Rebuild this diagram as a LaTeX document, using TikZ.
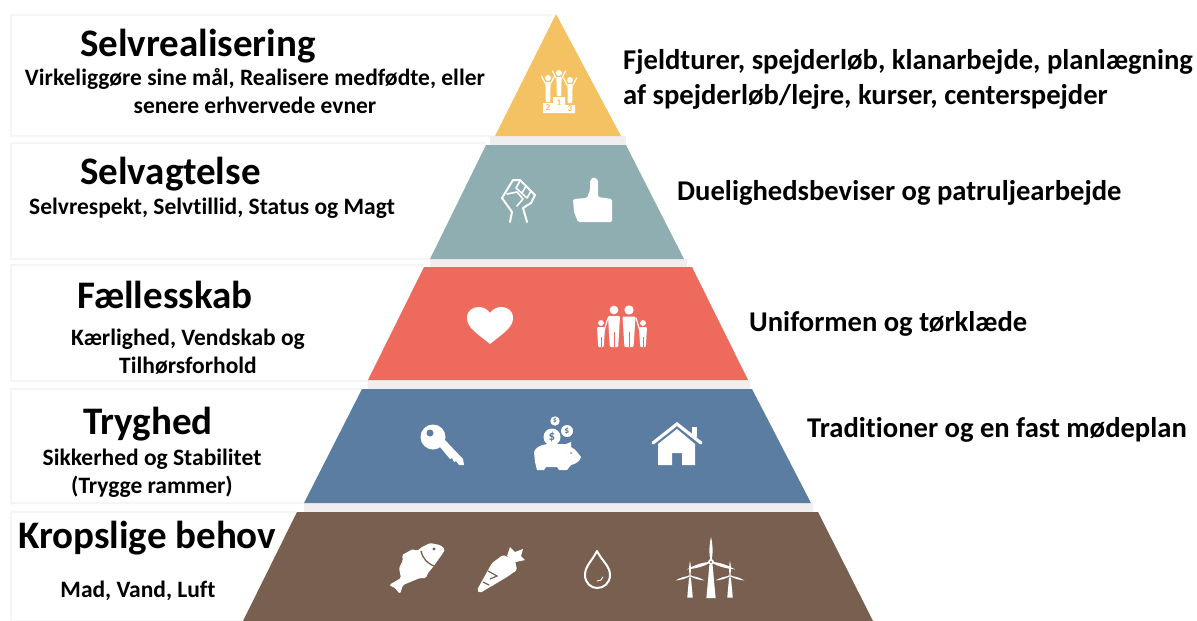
\documentclass[tikz,border=0pt]{standalone}
\usepackage{fontspec}
\setmainfont[Ligatures=NoCommon]{Carlito}
\usetikzlibrary{positioning}
\tikzset{
  heading/.style={anchor=base west,inner sep=0pt,text height=24pt,text depth=8pt,font=\fontsize{39}{41}\selectfont\bfseries},
  subtext/.style={inner sep=0pt,text height=14pt,text depth=5pt,font=\fontsize{23.5}{25}\selectfont\bfseries},
  activity/.style={anchor=base west,inner sep=0pt,text height=17pt,text depth=6pt,font=\fontsize{28.6}{30}\selectfont\bfseries},
  rowedge/.style={draw=rowline,line width=1.2pt},
  icon/.style={fill=white,draw=none},
  iconline/.style={draw=white,line width=2pt,line cap=round,line join=round},
  podiumnum/.style={inner sep=0pt,text=layerA,font=\fontsize{9}{9}\selectfont\bfseries},
  coinsign/.style={inner sep=0pt,text=layerD,font=\fontsize{#1}{#1}\selectfont\bfseries},
  turbine/.pic={
    \foreach \a in {0,107,-107}
      \fill[white,rotate=\a] (0,0) .. controls (-2.6,-8) and (-1.6,-18) .. (0,-25) .. controls (1.6,-18) and (2.6,-8) .. (0,0);
    \fill[white] (-1.6,3) -- (1.6,3) -- (4.6,36) -- (-4.6,36) -- cycle;
    \fill[white] (0,0) circle (3);
    \fill[layerE] (0,0) circle (1.2);
  }
}
\definecolor{layerA}{HTML}{F4C262}
\definecolor{layerB}{HTML}{8FAEB2}
\definecolor{layerC}{HTML}{EE6A5C}
\definecolor{layerD}{HTML}{5A7DA1}
\definecolor{layerE}{HTML}{785F50}
\definecolor{gapband}{HTML}{F0EEEE}
\definecolor{rowline}{HTML}{F5F5F5}
\begin{document}
\begin{tikzpicture}[x=1pt,y=-1pt,node distance=28pt,on grid]
  \useasboundingbox (0,0) rectangle (1197,621);
  % rows behind the text
  \foreach \ytop/\ybot/\xa/\xb in {15/136/552/495,143/259/486/430,265/381/424/368,389/503/362/304,512/621/297/243}
    \draw[rowedge] (\xa,\ytop) -- (11,\ytop) -- (11,\ybot) -- (\xb,\ybot);
  % gaps between the layers
  \foreach \ytop/\xa/\xb in {136/490/626,259/430/687,380/368/750,503/304/813}
    \fill[gapband] (\xa,\ytop) rectangle (\xb,\ytop+9);
  % layers
  \fill[layerA] (556,14) -- (621,136) -- (495,136) -- cycle;
  \fill[layerB] (486,145) -- (626,145) -- (684,259) -- (430,259) -- cycle;
  \fill[layerC] (424,267) -- (692,267) -- (748,380) -- (368,380) -- cycle;
  \fill[layerD] (362,389) -- (752,389) -- (811,503) -- (304,503) -- cycle;
  \fill[layerE] (297,512) -- (818,512) -- (873,621) -- (243,621) -- cycle;

  % left column
  \node[heading] (head_1) at (80,56) {Selvrealisering};
  \node[subtext,anchor=base] (sub_1a) at (255,85) {Virkeliggøre sine mål, Realisere medfødte, eller};
  \node[subtext] (sub_1b) [below=of sub_1a] {senere erhvervede evner};
  \node[heading] (head_2) at (80,184) {Selvagtelse};
  \node[subtext,anchor=base] (sub_2) at (212,214) {Selvrespekt, Selvtillid, Status og Magt};
  \node[heading] (head_3) at (77,308) {Fællesskab};
  \node[subtext,anchor=base] (sub_3a) at (188,345) {Kærlighed, Vendskab og};
  \node[subtext] (sub_3b) [below=of sub_3a] {Tilhørsforhold};
  \node[heading] (head_4) at (83,434) {Tryghed};
  \node[subtext,anchor=base] (sub_4a) at (152,465) {Sikkerhed og Stabilitet};
  \node[subtext] (sub_4b) [below=of sub_4a] {(Trygge rammer)};
  \node[heading] (head_5) at (18,548) {Kropslige behov};
  \node[subtext,anchor=base] (sub_5) at (138,597) {Mad, Vand, Luft};

  % right column
  \node[activity] (act_1a) at (623,69) {Fjeldturer, spejderløb, klanarbejde, planlægning};
  \node[activity] (act_1b) at (623,104) {af spejderløb/lejre, kurser, centerspejder};
  \node[activity] (act_2) at (677,200) {Duelighedsbeviser og patruljearbejde};
  \node[activity] (act_3) at (749,331) {Uniformen og tørklæde};
  \node[activity] (act_4) at (807,437) {Traditioner og en fast mødeplan};

  % podium
  \fill[icon] (543,103) rectangle (553,113) (553,97) rectangle (565,113) (565,105) rectangle (575,113);
  \node[podiumnum] (num_1) at (559,103) {1};
  \node[podiumnum] (num_2) at (548,108) {2};
  \node[podiumnum] (num_3) at (570,109) {3};
  \foreach \px/\py/\pt in {548/78/102,559/73/96,570/80/103} {
    \fill[icon] (\px,\py) circle (3);
    \fill[icon] (\px-2.6,\py+4) -- (\px+2.6,\py+4) -- (\px+2.2,\pt) -- (\px-2.2,\pt) -- cycle;
    \draw[white,line width=1.2pt,line cap=round] (\px-3,\py+5) -- (\px-6.5,\py-2) (\px+3,\py+5) -- (\px+6.5,\py-2);
  }

  % fist
  \draw[iconline] (510,222) -- (512,212) -- (502,198) -- (513,180) -- (520,180) -- (535,195) -- (531,203) -- (523,208) -- (527,222);
  \draw[white,line width=1.6pt,line cap=round,line join=round] (516,188) -- (527,198) (520,181) -- (516,188) (526,186) -- (522,193) (531,191) -- (527,198)
    (507,194) -- (517,192) -- (523,199) -- (517,206);

  % thumb
  \fill[icon,rounded corners=1.5pt] (573,199) -- (587,198) -- (590,190) -- (590,180) -- (594,177) -- (598,180) -- (598,197) -- (612,199) -- (612,222) -- (578,222) -- (574,212) -- cycle;

  % heart
  \fill[icon] (490,344) .. controls (478,334) and (467,328) .. (467,318) .. controls (467,310) and (473,307) .. (479,307) .. controls (484,307) and (488,310) .. (490,313) .. controls (492,310) and (496,307) .. (501,307) .. controls (507,307) and (513,310) .. (513,318) .. controls (513,328) and (502,334) .. (490,344) -- cycle;

  % family
  \foreach \px/\py/\pw/\pb in {614/310/6/347,629/310/6.5/347,601/323/4/347,643/323/4/347} {
    \fill[icon] (\px,\py) circle (\pw*0.72);
    \fill[icon,rounded corners=1pt] (\px-\pw,\py+\pw) -- (\px+\pw,\py+\pw) -- (\px+\pw*0.7,\pb) -- (\px-\pw*0.7,\pb) -- cycle;
    \draw[layerC,line width=0.7pt] (\px,\py*0.4+\pb*0.6) -- (\px,\pb);
  }
  \draw[white,line width=1.2pt,line cap=round] (608,318) -- (604,331) (636,318) -- (640,331);

  % key
  \fill[icon] (433,437) circle (12.5);
  \fill[layerD] (430,433) circle (3.5);
  \fill[icon] (440,441) -- (443,438) -- (463,459) -- (464,465) -- (459,465) -- (456,461) -- (454,462) -- (452,458) -- (450,459) -- (440,447) -- cycle;

  % piggy bank
  \fill[icon] (534,452) .. controls (536,445) and (548,443) .. (556,444) -- (566,444) -- (571,442) -- (571,447) .. controls (575,449) and (578,453) .. (581,457) .. controls (580,461) and (576,464) .. (571,465) -- (567,470) -- (559,470) -- (557,467) -- (546,467) -- (544,470) -- (537,470) -- (535,462) -- cycle;
  \foreach \cx/\cy/\cr in {555/421/4.7,567/431/6,552/437/8.5}
    \fill[icon] (\cx,\cy) circle (\cr);
  \fill[layerD] (571,453) circle (0.9);
  \node[coinsign=7] (coin_1) at (555,421) {\$};
  \node[coinsign=9] (coin_2) at (567,431) {\$};
  \node[coinsign=13] (coin_3) at (552,437) {\$};

  % house
  \fill[icon] (692,427) rectangle (697,437);
  \draw[white,line width=3.2pt,line cap=round,line join=miter] (653,443) -- (677,424) -- (701,443);
  \fill[icon] (658,444) -- (677,429) -- (695,444) -- (695,465) -- (682,465) -- (682,453) -- (672,453) -- (672,465) -- (658,465) -- cycle;

  % fish
  \fill[icon,rounded corners=1.5pt] (445,549) -- (440,545) -- (430,543) -- (422,547) -- (417,551) -- (413,549) -- (402,555) -- (403,560) -- (399,568) -- (401,578) -- (389,585) -- (395,588) -- (400,594) -- (403,585) -- (420,578) -- (426,578) -- (428,573) -- (433,567) -- (443,553) -- cycle;
  \fill[layerE] (434,549) circle (1.7);
  \draw[layerE,line width=1.3pt] (421,551) .. controls (423,559) and (427,563) .. (434,566);

  % carrot
  \fill[icon,rounded corners=1.5pt] (477,590) -- (492,563) -- (503,555) -- (515,560) -- (517,570) -- (507,577) -- (480,593) -- cycle;
  \draw[layerE,line width=1.2pt] (488,571) -- (497,576) -- (490,579) (483,582) -- (489,585);
  \fill[icon] (507,556) -- (510,547) -- (515,552) -- (523,549) -- (521,556) -- (525,560) -- (516,562) -- cycle;

  % drop
  \draw[iconline] (597,551) .. controls (592,561) and (585,566) .. (585,575) .. controls (585,583) and (591,588) .. (597,588) .. controls (604,588) and (610,583) .. (610,575) .. controls (610,566) and (602,561) .. (597,551) -- cycle;
  \draw[white,line width=0.9pt,line cap=round] (597,581) .. controls (600,581) and (602,580) .. (603,577);

  % wind turbines
  \pic at (690,576) [scale=0.6] {turbine};
  \pic at (730,576) [scale=0.6] {turbine};
  \pic at (711,562) {turbine};
\end{tikzpicture}
\end{document}
